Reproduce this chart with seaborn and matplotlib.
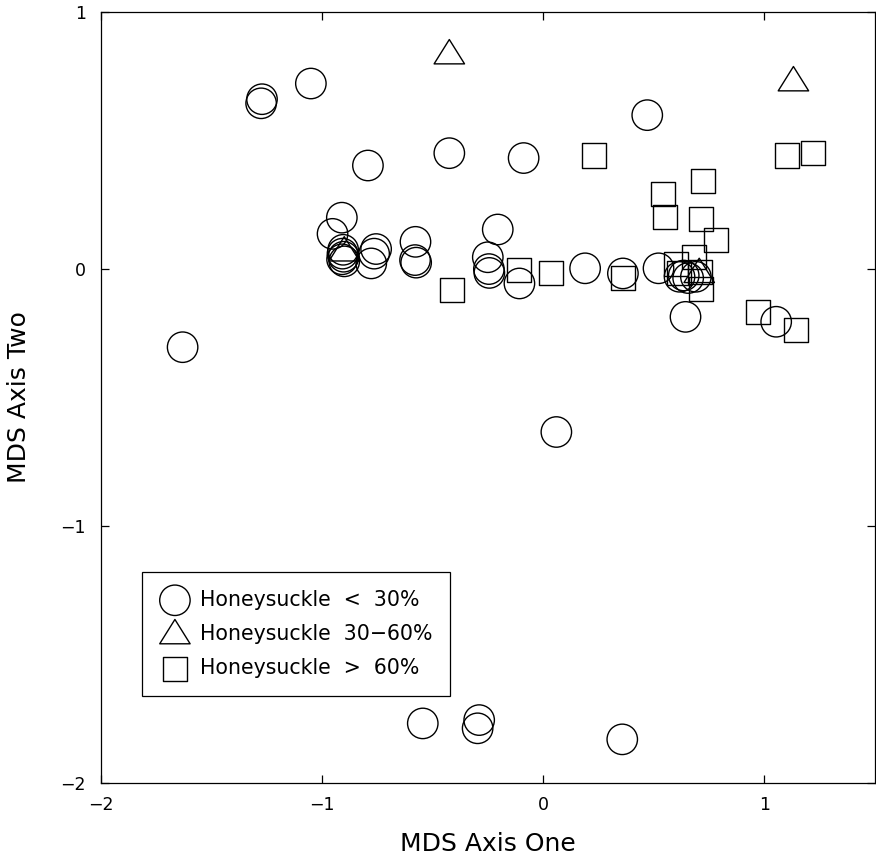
import numpy as np
import pandas as pd
import matplotlib
matplotlib.use("Agg")
import matplotlib.pyplot as plt
from matplotlib.path import Path
import seaborn as sns

sns.set_style("ticks")
plt.rcParams["font.family"] = ["DejaVu Sans"]
plt.rcParams.update({"text.color": "black", "axes.labelcolor": "black",
                     "xtick.color": "black", "ytick.color": "black"})

# MDS coordinates
low_x = [-1.276, -1.272, -1.051, -0.793, -0.425, -0.089, -0.911, -0.953,
         -0.905, -0.908, -0.903, -0.910, -0.900, -0.756, -0.765, -0.778,
         -0.578, -0.580, -0.575, -0.206, -0.251, -0.246, -0.244, -0.108,
         0.189, 0.360, 0.470, 0.521, 0.616, 0.635, 0.655, 0.690, 0.643,
         1.053, -1.631, 0.059, -0.545, -0.290, -0.297, 0.357]
low_y = [0.645, 0.661, 0.722, 0.403, 0.451, 0.432, 0.200, 0.137,
         0.075, 0.060, 0.048, 0.038, 0.030, 0.078, 0.060, 0.022,
         0.106, 0.035, 0.025, 0.154, 0.046, 0.000, -0.015, -0.056,
         0.003, -0.017, 0.599, 0.003, -0.030, -0.025, -0.035, -0.030, -0.186,
         -0.205, -0.304, -0.634, -1.768, -1.755, -1.787, -1.830]

mid_x = [-0.425, 1.131, -0.900, 0.705]
mid_y = [0.834, 0.729, 0.067, -0.017]

high_x = [0.230, 1.100, 1.219, 0.722, 0.542, 0.551, 0.712, 0.782, -0.413,
          -0.108, 0.033, 0.360, 0.602, 0.683, 0.613, 0.710, 0.715, 0.972, 1.141]
high_y = [0.442, 0.442, 0.450, 0.342, 0.293, 0.202, 0.193, 0.113, -0.082,
          -0.004, -0.017, -0.034, 0.021, 0.048, -0.014, -0.013, -0.079, -0.166, -0.237]

groups = ["Honeysuckle  <  30%", "Honeysuckle  30\u221260%", "Honeysuckle  >  60%"]

low = pd.DataFrame({"x": low_x, "y": low_y})
mid = pd.DataFrame({"x": mid_x, "y": mid_y})
high = pd.DataFrame({"x": high_x, "y": high_y})

# flatter triangle than matplotlib's "^"
tri = Path([(-1, -0.6), (1, -0.6), (0, 1.0), (-1, -0.6)],
           [Path.MOVETO, Path.LINETO, Path.LINETO, Path.CLOSEPOLY])

fig = plt.figure(figsize=(8.76, 8.57), dpi=100)
ax = fig.add_axes([0.1153, 0.0863, 0.8836, 0.8996])

common = dict(facecolor="none", edgecolor="black", linewidth=1.0, ax=ax)
sns.scatterplot(data=low, x="x", y="y", marker="o", s=480, label=groups[0], **common)
sns.scatterplot(data=mid, x="x", y="y", marker=tri, s=480, label=groups[1], **common)
sns.scatterplot(data=high, x="x", y="y", marker="s", s=300, label=groups[2], **common)

ax.set_xlim(-2, 1.5)
ax.set_ylim(-2, 1)
ax.set_xticks([-2, -1, 0, 1])
ax.set_yticks([-2, -1, 0, 1])
ax.tick_params(direction="in", length=6, width=0.9, top=True, right=True,
               labelsize=12.5)
ax.tick_params(axis="x", pad=9.5)
ax.tick_params(axis="y", pad=11)
for sp in ax.spines.values():
    sp.set_linewidth(0.9)
    sp.set_color("black")

ax.set_xlabel("MDS Axis One", fontsize=18, labelpad=13)
ax.set_ylabel("MDS Axis Two", fontsize=18, labelpad=21)

leg = ax.legend(loc="lower left", bbox_to_anchor=(0.053, 0.113), borderaxespad=0,
                fontsize=14.8, fancybox=False, framealpha=1, edgecolor="black",
                handlelength=1.5, handletextpad=0.45, labelspacing=0.7,
                borderpad=0.85)
leg.get_frame().set_linewidth(0.9)

fig.savefig("out.png", dpi=100)
